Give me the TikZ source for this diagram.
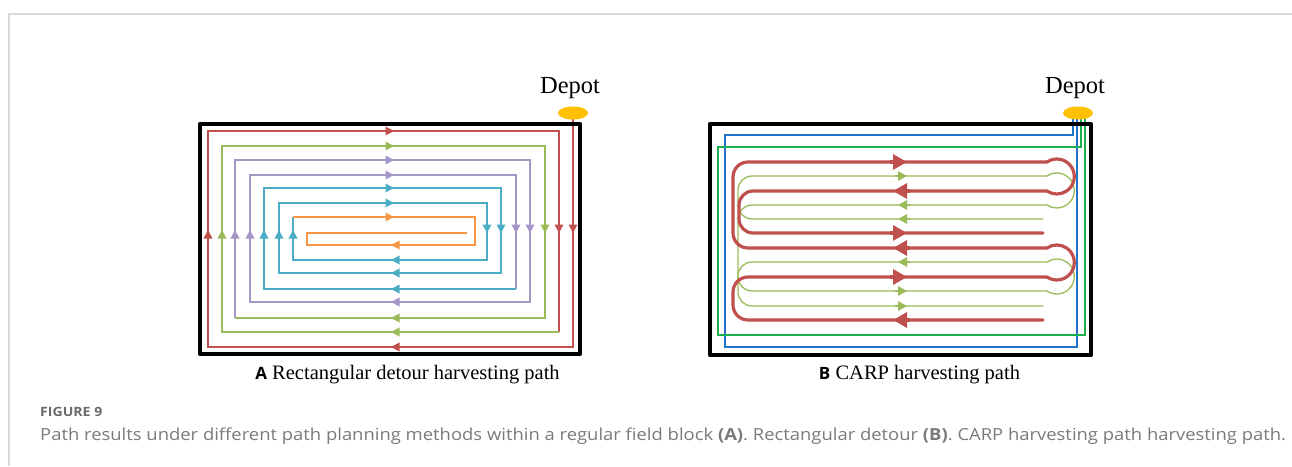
\documentclass[tikz,border=0pt]{standalone}
\usepackage{fontspec}
\setmainfont{Liberation Serif}
\newfontfamily\osans{Open Sans}
\newfontfamily\capfont[FakeStretch=1.1]{Open Sans}
\newfontfamily\captextfont[FakeStretch=1.11]{Open Sans}
\usetikzlibrary{arrows.meta}
\definecolor{cR}{HTML}{C0504D}
\definecolor{cG}{HTML}{9BBB59}
\definecolor{cP}{HTML}{A596C8}
\definecolor{cB}{HTML}{4BACC6}
\definecolor{cO}{HTML}{F79646}
\definecolor{depotc}{HTML}{FFC000}
\definecolor{frBlue}{HTML}{2176C7}
\definecolor{frGreen}{HTML}{1DB04E}
\definecolor{capgray}{HTML}{7A7A7A}
\definecolor{figgray}{HTML}{6A6A6A}
\definecolor{cardline}{HTML}{D9D9D9}
\tikzset{
  field/.style={line width=4.5, draw=black, line join=round},
  spiral/.style={line width=1.8, line join=miter},
  tipA/.style={-{Triangle[length=8.5pt,width=8.5pt]}},
  serp/.style={line width=3.2, draw=cR, line cap=round},
  thin/.style={line width=1.3, draw=cG, line cap=round},
  tipRed/.style={-{Triangle[length=14pt,width=15pt]}},
  tipGreen/.style={-{Triangle[length=9pt,width=9.5pt]}},
  depot/.style={fill=depotc, draw=none},
  depottext/.style={font=\fontsize{24.5}{28}\selectfont, inner sep=0pt},
  sublabel/.style={font=\fontsize{20.5}{24}\selectfont, inner sep=0pt},
  frm/.style={line width=1.8, line join=miter}
}
\begin{document}
\begin{tikzpicture}[x=1pt,y=-1pt]
\useasboundingbox (0,0) rectangle (1292,466);
% card border
\draw[cardline, line width=1.5] (9,466) -- (9,14) -- (1292,14);

% ================= Panel A =================
\draw[spiral, cR] (573,118) -- (573,347) -- (208,347) -- (208,131) -- (559,131) -- (559,332);
\draw[spiral, cG] (559,332) -- (222,332) -- (222,146) -- (545,146) -- (545,318) -- (235,318);
\draw[spiral, cP] (235,318) -- (235,160) -- (530,160) -- (530,302) -- (250,302) -- (250,175) -- (516,175) -- (516,289);
\draw[spiral, cB] (516,289) -- (264,289) -- (264,188) -- (501,188) -- (501,273) -- (279,273) -- (279,203) -- (487,203) -- (487,260) -- (293,260) -- (293,217);
\draw[spiral, cO] (293,217) -- (475,217) -- (475,245) -- (307,245) -- (307,233) -- (467,233);
% arrows A
\foreach \yy/\cc in {131/cR,146/cG,160/cP,175/cP,188/cB,203/cB,217/cO}
  \draw[spiral, color=\cc, tipA] (380,\yy) -- (394,\yy);
\foreach \yy/\cc in {245/cO,260/cB,273/cB,289/cB,302/cP,318/cG,332/cG,347/cR}
  \draw[spiral, color=\cc, tipA] (405,\yy) -- (391,\yy);
\foreach \xx/\cc in {208/cR,222/cG,235/cP,250/cP,264/cB,279/cB,293/cB}
  \draw[spiral, color=\cc, tipA] (\xx,245) -- (\xx,230);
\foreach \xx/\cc in {487/cB,501/cB,516/cP,530/cP,545/cG,559/cR,573/cR}
  \draw[spiral, color=\cc, tipA] (\xx,218) -- (\xx,233);
\draw[field] (200,124) rectangle (580,354);
\fill[depot] (573,113) ellipse [x radius=15, y radius=6.5];
\node[depottext] (depotA) at (570,88) {Depot};
\node[sublabel] (labA) at (407.5,375) {{\osans\bfseries\fontsize{17}{20}\selectfont A} Rectangular detour harvesting path};

% ================= Panel B =================
\draw[frm, frBlue] (1073,118) -- (1073,135) -- (725,135) -- (725,347) -- (1077,347) -- (1077,118);
\draw[frm, frGreen] (1081,118) -- (1081,147) -- (718,147) -- (718,335) -- (1085,335) -- (1085,118);
% green thin serpentine
\draw[thin, rounded corners=14] (1043,219) -- (738,219) -- (738,176) -- (1047,176);
\draw[thin] (1047,176) arc[start angle=-124, end angle=124, radius=17.5];
\draw[thin, rounded corners=14] (1047,205) -- (738,205) -- (738,291) -- (1047,291);
\draw[thin] (1047,291) arc[start angle=124, end angle=-124, radius=17.5];
\draw[thin, rounded corners=14] (1047,262) -- (738,262) -- (738,306) -- (1043,306);
% red thick serpentine
\draw[serp, rounded corners=15] (1043,320) -- (733,320) -- (733,277) -- (1047,277);
\draw[serp] (1047,277) arc[start angle=124, end angle=-124, radius=17.5];
\draw[serp, rounded corners=15] (1047,248) -- (733,248) -- (733,162) -- (1047,162);
\draw[serp] (1047,162) arc[start angle=-124, end angle=124, radius=17.5];
\draw[serp, rounded corners=14] (1047,191) -- (739,191) -- (739,233) -- (1043,233);
% arrows B
\foreach \yy in {176,291,306}
  \draw[thin, line cap=butt, cG, tipGreen] (895,\yy) -- (907,\yy);
\foreach \yy in {205,219,262}
  \draw[thin, line cap=butt, cG, tipGreen] (910,\yy) -- (898,\yy);
\foreach \yy in {162,233,277}
  \draw[serp, line cap=butt, tipRed] (890,\yy) -- (907,\yy);
\foreach \yy in {191,248,320}
  \draw[serp, line cap=butt, tipRed] (910,\yy) -- (893,\yy);
\draw[field] (710,124) rectangle (1091,355);
\fill[depot] (1078,113) ellipse [x radius=15, y radius=6.5];
\node[depottext] (depotB) at (1075,88) {Depot};
\node[sublabel] (labB) at (919.5,375) {{\osans\bfseries\fontsize{17}{20}\selectfont B} CARP harvesting path};

% ================= Caption =================
\node[anchor=base west, inner sep=0pt, text=figgray, font=\capfont\bfseries\fontsize{12.8}{15}\selectfont] (fig) at (40,416) {FIGURE 9};
\node[anchor=base west, inner sep=0pt, text=capgray, font=\captextfont\fontsize{16.6}{20}\selectfont] (cap) at (40,440)
  {Path results under different path planning methods within a regular field block {\bfseries(A)}. Rectangular detour {\bfseries(B)}. CARP harvesting path harvesting path.};
\end{tikzpicture}
\end{document}
